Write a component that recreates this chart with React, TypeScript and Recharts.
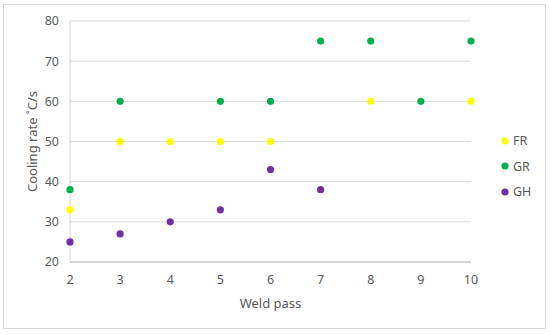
import { ScatterChart, Scatter, XAxis, YAxis, CartesianGrid, Label } from 'recharts';

const frData = [
  { pass: 2, rate: 33 },
  { pass: 3, rate: 50 },
  { pass: 4, rate: 50 },
  { pass: 5, rate: 50 },
  { pass: 6, rate: 50 },
  { pass: 8, rate: 60 },
  { pass: 10, rate: 60 },
];

const grData = [
  { pass: 2, rate: 38 },
  { pass: 3, rate: 60 },
  { pass: 5, rate: 60 },
  { pass: 6, rate: 60 },
  { pass: 7, rate: 75 },
  { pass: 8, rate: 75 },
  { pass: 9, rate: 60 },
  { pass: 10, rate: 75 },
];

const ghData = [
  { pass: 2, rate: 25 },
  { pass: 3, rate: 27 },
  { pass: 4, rate: 30 },
  { pass: 5, rate: 33 },
  { pass: 6, rate: 43 },
  { pass: 7, rate: 38 },
];

const xTicks = [2, 3, 4, 5, 6, 7, 8, 9, 10];
const yTicks = [20, 30, 40, 50, 60, 70, 80];

const FONT = '"Noto Sans", "Open Sans", sans-serif';
const TEXT = '#595959';

const series = [
  { name: 'FR', data: frData, color: '#FFFF00' },
  { name: 'GR', data: grData, color: '#00B050' },
  { name: 'GH', data: ghData, color: '#7030A0' },
];

const dot = (color: string) => (props: any) => (
  <circle cx={props.cx} cy={props.cy} r={3.6} fill={color} stroke="none" />
);

// legend drawn as an overlay so it doesn't eat into the plot area
function LegendBox() {
  return (
    <div
      style={{
        position: 'absolute',
        left: 501,
        top: 128,
        fontFamily: FONT,
        fontSize: 12.5,
        color: TEXT,
      }}
    >
      {series.map((s) => (
        <div key={s.name} style={{ display: 'flex', alignItems: 'center', height: 25.5 }}>
          <svg width={8} height={8} style={{ marginRight: 4 }}>
            <circle cx={4} cy={4} r={3.6} fill={s.color} />
          </svg>
          <span>{s.name}</span>
        </div>
      ))}
    </div>
  );
}

export default function App() {
  return (
    <div style={{ position: 'absolute', left: 0, top: 0, width: 550, height: 335, background: '#fff' }}>
      <div
        style={{
          position: 'absolute',
          left: 3,
          top: 4,
          width: 543,
          height: 325,
          border: '1px solid #d9d9d9',
          boxSizing: 'border-box',
        }}
      />
      <ScatterChart width={550} height={335} margin={{ top: 21, right: 79, bottom: 23, left: 0 }}>
        <CartesianGrid horizontal vertical={false} stroke="#d9d9d9" />
        <XAxis
          type="number"
          dataKey="pass"
          domain={[2, 10]}
          ticks={xTicks}
          height={50}
          tickLine={false}
          tickMargin={7}
          axisLine={{ stroke: '#bfbfbf' }}
          tick={{ fontSize: 12.5, fill: TEXT, fontFamily: FONT }}
        >
          <Label
            value="Weld pass"
            position="insideBottom"
            offset={4}
            style={{ fontSize: 13, fill: TEXT, fontFamily: FONT }}
          />
        </XAxis>
        <YAxis
          type="number"
          dataKey="rate"
          domain={[20, 80]}
          ticks={yTicks}
          width={70}
          tickLine={false}
          tickMargin={5}
          axisLine={{ stroke: '#d9d9d9' }}
          tick={{ fontSize: 12.5, fill: TEXT, fontFamily: FONT }}
        >
          <Label
            value="Cooling rate ˚C/s"
            angle={-90}
            position="insideLeft"
            offset={32}
            style={{ fontSize: 13, fill: TEXT, fontFamily: FONT, textAnchor: 'middle' }}
          />
        </YAxis>
        {series.map((s) => (
          <Scatter
            key={s.name}
            name={s.name}
            data={s.data}
            fill={s.color}
            shape={dot(s.color)}
            isAnimationActive={false}
          />
        ))}
      </ScatterChart>
      <LegendBox />
    </div>
  );
}
